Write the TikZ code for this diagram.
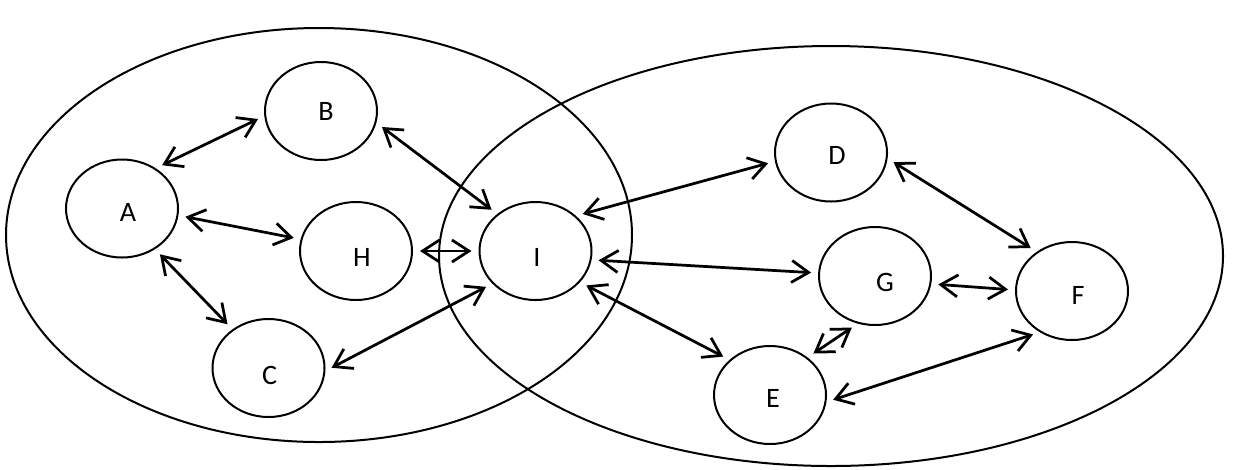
\documentclass[tikz,border=0pt]{standalone}
\usepackage{fontspec}
\setmainfont{Carlito}
\usepackage{tikz}
\usetikzlibrary{arrows.meta,shapes.geometric}

\begin{document}
\begin{tikzpicture}[x=0.2mm,y=-0.2mm,>={Straight Barb[length=3.4mm,width=4.4mm]},every node/.style={font=\fontsize{16}{19}\selectfont},state/.style={draw,ellipse,line width=0.4mm,minimum width=22.4mm,minimum height=19.6mm,inner sep=0pt},link/.style={<->,line width=0.55mm,shorten <=1.4mm,shorten >=1.4mm},group/.style={line width=0.4mm}]
\useasboundingbox (0,0) rectangle (1236,469);
\draw[group] (319,235) ellipse [x radius=313,y radius=207];
\draw[group] (831,256) ellipse [x radius=392,y radius=210];
\node[state,label={[xshift=1.2mm,yshift=-0.8mm]center:A}] (A) at (122,208.5) {};
\node[state,label={[xshift=1mm,yshift=0mm]center:B}] (B) at (321,111) {};
\node[state,label={[xshift=1.2mm,yshift=-1.2mm]center:H}] (H) at (356,251) {};
\node[state,label={[xshift=0.2mm,yshift=-1.4mm]center:C}] (C) at (268.5,368) {};
\node[state,label={[xshift=0.3mm,yshift=-1.3mm]center:I}] (I) at (535.5,251) {};
\node[state,label={[xshift=1.2mm,yshift=-0.6mm]center:D}] (D) at (831,152.5) {};
\node[state,label={[xshift=2mm,yshift=-1.3mm]center:G}] (G) at (875,276) {};
\node[state,label={[xshift=1.2mm,yshift=-0.8mm]center:F}] (F) at (1072,291) {};
\node[state,label={[xshift=0.6mm,yshift=-0.6mm]center:E}] (E) at (770,395) {};
\draw[link] (A.50) -- (B.185);
\draw[link] (A.-7) -- (H.168);
\draw[link] (A.-51) -- (C.133);
\draw[link] (B.-12) -- (I.136);
\draw[link] (H.0) -- (I.180);
\draw[link] (C.-3) -- (I.217);
\draw[link] (I.41) -- (D.189);
\draw[link] (I.-9) -- (G.177);
\draw[link] (I.-35) -- (E.139);
\draw[link] (D.-6) -- (F.132);
\draw[link] (G.-8) -- (F.179);
\draw[link] (G.250) -- (E.45);
\draw[link] (E.-7) -- (F.232);
\end{tikzpicture}
\end{document}
